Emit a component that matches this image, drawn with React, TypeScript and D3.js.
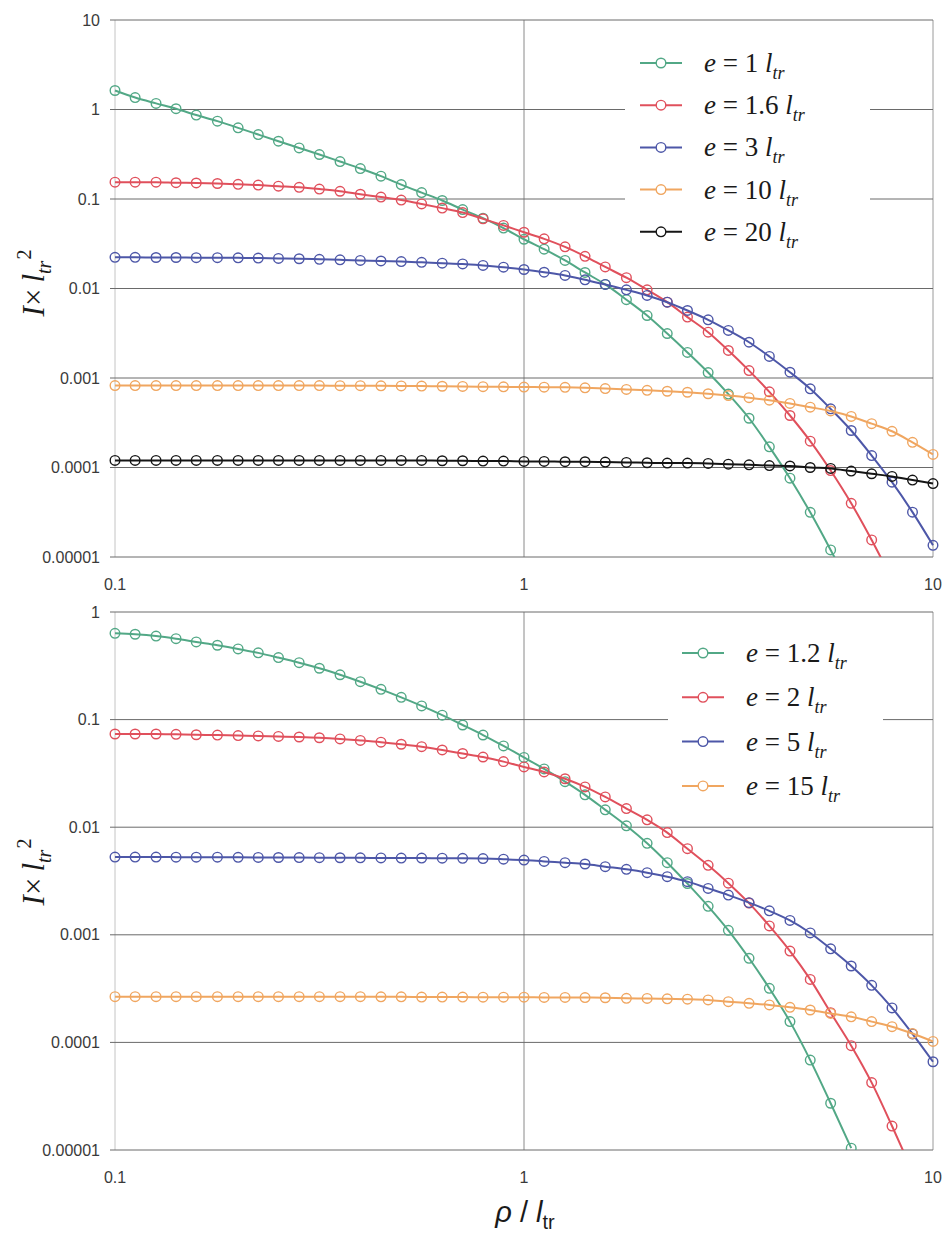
import React from "react";
import * as d3 from "d3";

// rho / l_tr sampling (markers)
const rho = [0.1, 0.112, 0.126, 0.141, 0.158, 0.178, 0.2, 0.224, 0.251, 0.282, 0.316, 0.355, 0.398, 0.447, 0.501, 0.562, 0.631, 0.708, 0.794, 0.891, 1, 1.12, 1.26, 1.41, 1.58, 1.78, 2, 2.24, 2.51, 2.82, 3.16, 3.55, 3.98, 4.47, 5.01, 5.62, 6.31, 7.08, 7.94, 8.91, 10];

// Top panel series
const topE1 = [1.63, 1.36, 1.17, 1.02, 0.867, 0.741, 0.624, 0.525, 0.442, 0.372, 0.314, 0.262, 0.219, 0.18, 0.145, 0.118, 0.0962, 0.0762, 0.061, 0.0473, 0.0355, 0.0275, 0.0206, 0.0151, 0.0111, 0.0075, 0.00499, 0.00314, 0.00193, 0.00115, 0.000661, 0.000355, 0.00017, 0.0000759, 0.0000316, 0.000012, 0.0000043];
const topE16 = [0.154, 0.154, 0.154, 0.152, 0.151, 0.149, 0.146, 0.143, 0.139, 0.135, 0.129, 0.122, 0.113, 0.105, 0.0973, 0.0881, 0.0791, 0.0705, 0.06, 0.0507, 0.0425, 0.0359, 0.0292, 0.0229, 0.0174, 0.0132, 0.00966, 0.00703, 0.00479, 0.00325, 0.00203, 0.00121, 0.0007, 0.000381, 0.000197, 0.0000925, 0.0000398, 0.0000155, 0.0000056];
const topE3 = [0.0223, 0.0223, 0.0222, 0.0222, 0.0221, 0.0221, 0.022, 0.0219, 0.0217, 0.0215, 0.0212, 0.0209, 0.0206, 0.0203, 0.02, 0.0196, 0.0192, 0.0188, 0.0181, 0.0173, 0.0163, 0.0152, 0.014, 0.0125, 0.0111, 0.00966, 0.00836, 0.00703, 0.00568, 0.00447, 0.0034, 0.00251, 0.00174, 0.00116, 0.000757, 0.000452, 0.000259, 0.000136, 0.0000685, 0.0000317, 0.0000135];
const topE10 = [0.000822, 0.000822, 0.000822, 0.000822, 0.000822, 0.000822, 0.000822, 0.000822, 0.000822, 0.000822, 0.000822, 0.000821, 0.00082, 0.000818, 0.000816, 0.000813, 0.000809, 0.000805, 0.0008, 0.000796, 0.000792, 0.00079, 0.000786, 0.000776, 0.000762, 0.000745, 0.000728, 0.000711, 0.000693, 0.000667, 0.000637, 0.000603, 0.000565, 0.00052, 0.000472, 0.000428, 0.000372, 0.000309, 0.000254, 0.000191, 0.00014];
const topE20 = [0.00012, 0.00012, 0.00012, 0.00012, 0.00012, 0.00012, 0.00012, 0.00012, 0.00012, 0.00012, 0.00012, 0.00012, 0.00012, 0.00012, 0.00012, 0.00012, 0.000119, 0.000119, 0.000118, 0.000118, 0.000117, 0.000117, 0.000116, 0.000116, 0.000115, 0.000114, 0.000113, 0.000112, 0.000112, 0.000111, 0.000109, 0.000107, 0.000105, 0.000104, 0.0001, 0.0000977, 0.0000912, 0.0000851, 0.0000794, 0.0000724, 0.0000661];

// Bottom panel series
const botE12 = [0.634, 0.621, 0.598, 0.565, 0.527, 0.491, 0.454, 0.417, 0.377, 0.338, 0.3, 0.261, 0.225, 0.191, 0.161, 0.134, 0.11, 0.0891, 0.0719, 0.0569, 0.0445, 0.0348, 0.0265, 0.02, 0.0145, 0.0103, 0.00708, 0.00468, 0.00299, 0.00184, 0.0011, 0.000605, 0.000318, 0.000156, 0.0000685, 0.0000272, 0.0000104];
const botE2 = [0.0735, 0.0735, 0.0735, 0.0729, 0.0723, 0.0718, 0.0711, 0.0705, 0.0697, 0.0689, 0.0678, 0.0661, 0.064, 0.0617, 0.059, 0.056, 0.0522, 0.0484, 0.0449, 0.0407, 0.0363, 0.0326, 0.0282, 0.0237, 0.0191, 0.0149, 0.0117, 0.00891, 0.00631, 0.00442, 0.00302, 0.00197, 0.00121, 0.000706, 0.000385, 0.000189, 0.0000933, 0.0000423, 0.0000167, 0.0000063];
const botE5 = [0.00528, 0.00528, 0.00528, 0.00527, 0.00527, 0.00526, 0.00525, 0.00524, 0.00523, 0.00522, 0.00521, 0.0052, 0.00519, 0.00518, 0.00517, 0.00516, 0.00515, 0.00514, 0.00511, 0.00504, 0.00495, 0.00481, 0.00468, 0.00455, 0.0043, 0.00406, 0.00378, 0.00347, 0.00312, 0.0027, 0.00234, 0.00199, 0.00167, 0.00136, 0.00104, 0.000741, 0.000513, 0.000339, 0.000209, 0.00012, 0.0000661];
const botE15 = [0.000266, 0.000266, 0.000266, 0.000266, 0.000266, 0.000266, 0.000266, 0.000266, 0.000266, 0.000266, 0.000266, 0.000266, 0.000266, 0.000265, 0.000265, 0.000264, 0.000264, 0.000264, 0.000263, 0.000263, 0.000263, 0.000262, 0.000262, 0.000261, 0.00026, 0.000257, 0.000256, 0.000254, 0.000252, 0.000248, 0.000239, 0.000231, 0.000223, 0.000212, 0.0002, 0.000186, 0.000173, 0.000156, 0.00014, 0.000121, 0.000102];

const topThick = ["1", "1.6", "3", "10", "20"];
const botThick = ["1.2", "2", "5", "15"];
const topTickValues = [10, 1, 0.1, 0.01, 0.001, 0.0001, 0.00001];
const topTickLabels = ["10", "1", "0.1", "0.01", "0.001", "0.0001", "0.00001"];
const botTickValues = [1, 0.1, 0.01, 0.001, 0.0001, 0.00001];
const botTickLabels = ["1", "0.1", "0.01", "0.001", "0.0001", "0.00001"];
const xTickValues = [0.1, 1, 10];
const xTickLabels = ["0.1", "1", "10"];

const GREEN = "#52a886";
const RED = "#e0505c";
const BLUE = "#4d57a8";
const ORANGE = "#f0a660";
const BLACK = "#151515";

const topSeries = [
  { label: topThick[0], values: topE1, color: GREEN },
  { label: topThick[1], values: topE16, color: RED },
  { label: topThick[2], values: topE3, color: BLUE },
  { label: topThick[3], values: topE10, color: ORANGE },
  { label: topThick[4], values: topE20, color: BLACK },
];
const botSeries = [
  { label: botThick[0], values: botE12, color: GREEN },
  { label: botThick[1], values: botE2, color: RED },
  { label: botThick[2], values: botE5, color: BLUE },
  { label: botThick[3], values: botE15, color: ORANGE },
];

const X0 = 115;
const X1 = 933;
const x = d3.scaleLog().domain([0.1, 10]).range([X0, X1]);

type Series = { label: string; values: number[]; color: string };

function Panel(props: {
  id: string;
  series: Series[];
  yDomain: [number, number];
  yRange: [number, number];
  tickValues: number[];
  tickLabels: string[];
  legend: { x: number; y: number; dy: number; box: [number, number, number, number] };
  labelY: number;
}) {
  const { id, series, yDomain, yRange, tickValues, tickLabels, legend, labelY } = props;
  const y = d3.scaleLog().domain(yDomain).range(yRange);
  const line = d3
    .line<[number, number]>()
    .x((d) => x(d[0]))
    .y((d) => y(d[1]))
    .curve(d3.curveMonotoneX);
  const yTop = yRange[1];
  const yBot = yRange[0];
  return (
    <g>
      <defs>
        <clipPath id={id}>
          <rect x={X0 - 8} y={yTop - 8} width={X1 - X0 + 16} height={yBot - yTop + 8} />
        </clipPath>
      </defs>
      {/* frame lines */}
      <line x1={X0} x2={X0} y1={yTop} y2={yBot} stroke="#c4c4c4" strokeWidth={1} />
      <line x1={X1} x2={X1} y1={yTop} y2={yBot} stroke="#9a9a9a" strokeWidth={1} />
      <line x1={x(1)} x2={x(1)} y1={yTop} y2={yBot} stroke="#8a8a8a" strokeWidth={1} />
      {tickValues.map((v, i) => (
        <g key={i}>
          <line x1={X0 - 5} x2={X1} y1={y(v)} y2={y(v)} stroke="#6a6a6a" strokeWidth={1} />
          <text
            x={100}
            y={y(v)}
            dy="0.35em"
            textAnchor="end"
            fontFamily="'Liberation Sans', Arial, sans-serif"
            fontSize={16}
            fill="#3a3a3a"
          >
            {tickLabels[i]}
          </text>
        </g>
      ))}
      {/* legend background */}
      <rect x={legend.box[0]} y={legend.box[1]} width={legend.box[2]} height={legend.box[3]} fill="#fff" />
      <g clipPath={`url(#${id})`}>
        {series.map((s, si) => {
          const pts: [number, number][] = s.values.map((v, i) => [rho[i], v]);
          return (
            <g key={si}>
              <path d={line(pts) || ""} fill="none" stroke={s.color} strokeWidth={2} />
              {pts.map((p, i) => (
                <circle
                  key={i}
                  cx={x(p[0])}
                  cy={y(p[1])}
                  r={4.8}
                  fill="none"
                  stroke={s.color}
                  strokeWidth={1.4}
                />
              ))}
            </g>
          );
        })}
      </g>
      {/* legend */}
      {series.map((s, i) => {
        const ly = legend.y + i * legend.dy;
        return (
          <g key={i}>
            <line x1={legend.x} x2={legend.x + 42} y1={ly} y2={ly} stroke={s.color} strokeWidth={2} />
            <circle cx={legend.x + 21} cy={ly} r={4.8} fill="#fff" stroke={s.color} strokeWidth={1.4} />
            <text
              x={legend.x + 64}
              y={ly + 9}
              fontFamily="'Liberation Serif', 'Times New Roman', serif"
              fontSize={27}
              fill="#1a1a1a"
            >
              <tspan fontStyle="italic">e</tspan>
              <tspan> = {s.label} </tspan>
              <tspan fontStyle="italic">l</tspan>
              <tspan fontStyle="italic" fontSize={18} dy={7}>tr</tspan>
            </text>
          </g>
        );
      })}
      {/* x tick labels */}
      {xTickValues.map((v, i) => (
        <text
          key={i}
          x={x(v)}
          y={yBot + 33}
          textAnchor="middle"
          fontFamily="'Liberation Sans', Arial, sans-serif"
          fontSize={16}
          fill="#3a3a3a"
        >
          {xTickLabels[i]}
        </text>
      ))}
      {/* y axis label */}
      <text
        transform={`translate(44,${labelY}) rotate(-90)`}
        textAnchor="middle"
        fontFamily="'Liberation Serif', 'Times New Roman', serif"
        fontSize={31}
        fill="#1a1a1a"
      >
        <tspan fontStyle="italic">I</tspan>
        <tspan>×</tspan>
        <tspan dx={6} fontStyle="italic">l</tspan>
        <tspan fontStyle="italic" fontSize={20} dy={7}>tr</tspan>
        <tspan fontSize={20} dx={1} dy={-20}>2</tspan>
      </text>
    </g>
  );
}

export default function App() {
  return (
    <svg
      width={944}
      height={1235}
      viewBox="0 0 944 1235"
      style={{ position: "absolute", left: 0, top: 0, display: "block", background: "#fff" }}
    >
      <rect x={0} y={0} width={944} height={1235} fill="#fff" />
      <Panel
        id="clipTop"
        series={topSeries}
        yDomain={[0.00001, 10]}
        yRange={[557, 20]}
        tickValues={topTickValues}
        tickLabels={topTickLabels}
        legend={{ x: 640, y: 63, dy: 42.2, box: [625, 38, 245, 212] }}
        labelY={283}
      />
      <Panel
        id="clipBot"
        series={botSeries}
        yDomain={[0.00001, 1]}
        yRange={[1150, 612]}
        tickValues={botTickValues}
        tickLabels={botTickLabels}
        legend={{ x: 682, y: 653, dy: 44.3, box: [668, 628, 215, 180] }}
        labelY={872}
      />
      <text
        x={525}
        y={1222}
        textAnchor="middle"
        fontFamily="'Liberation Sans', Arial, sans-serif"
        fontSize={29}
        fill="#1a1a1a"
      >
        <tspan fontStyle="italic">ρ</tspan>
        <tspan> / </tspan>
        <tspan fontStyle="italic">l</tspan>
        <tspan fontSize={20} dy={7}>tr</tspan>
      </text>
    </svg>
  );
}
